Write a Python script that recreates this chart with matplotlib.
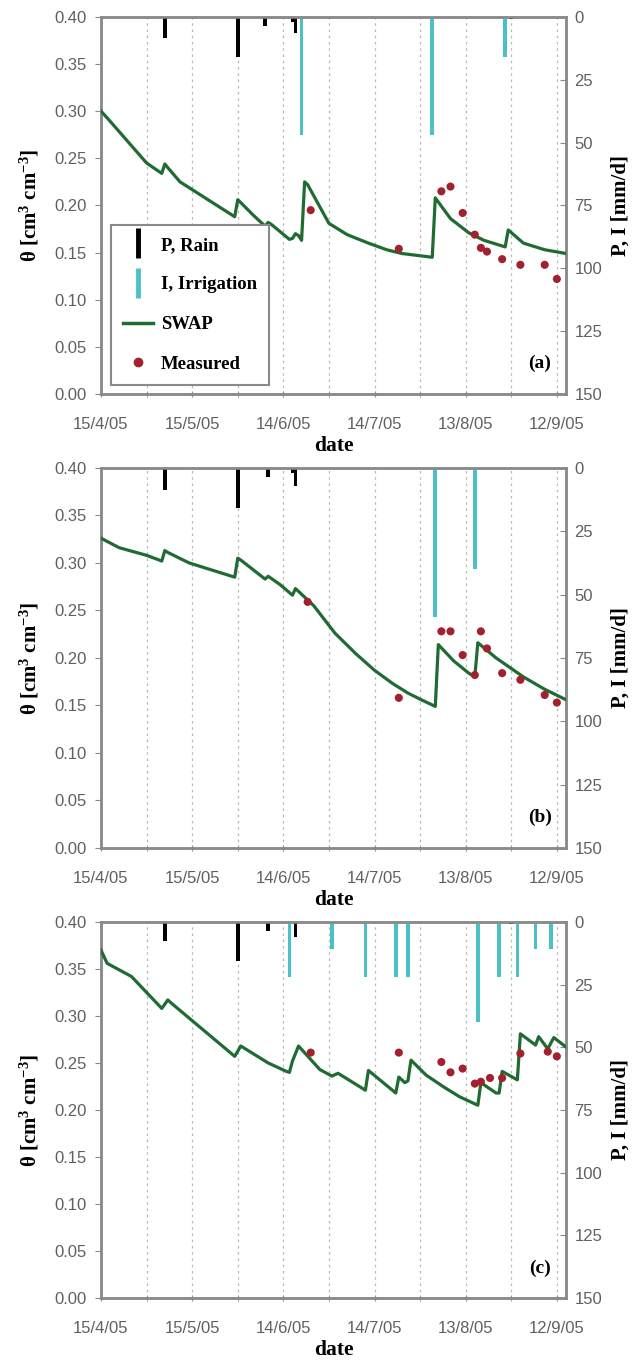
import numpy as np
import pandas as pd
import matplotlib
matplotlib.use("Agg")
import matplotlib.pyplot as plt
from matplotlib.lines import Line2D
from matplotlib.ticker import FixedLocator

plt.rcParams['mathtext.fontset'] = 'custom'
plt.rcParams['mathtext.rm'] = 'Liberation Serif:bold'
plt.rcParams['mathtext.it'] = 'Liberation Serif:bold'
plt.rcParams['mathtext.bf'] = 'Liberation Serif:bold'
plt.rcParams['mathtext.default'] = 'rm'

start = pd.Timestamp('2005-04-15')

# ---- panel (a) ----
swap_a_day = [0, 2, 15, 20, 21, 22, 26, 44, 45, 46, 50, 54, 55, 56, 59, 62, 63, 64, 65, 66, 67, 68,
              75, 81, 88, 94, 99, 104, 109, 110, 115, 121, 126, 131, 133, 134, 139, 146, 153]
swap_a = [0.300, 0.293, 0.245, 0.234, 0.244, 0.240, 0.225, 0.188, 0.206, 0.203, 0.190, 0.178, 0.182,
          0.180, 0.172, 0.164, 0.165, 0.170, 0.168, 0.163, 0.225, 0.222, 0.181, 0.169, 0.160, 0.153,
          0.149, 0.147, 0.145, 0.208, 0.186, 0.171, 0.163, 0.158, 0.156, 0.174, 0.160, 0.153, 0.149]
meas_a_day = [69, 98, 112, 115, 119, 123, 125, 127, 132, 138, 146, 150]
meas_a = [0.195, 0.154, 0.215, 0.220, 0.192, 0.169, 0.155, 0.151, 0.143, 0.137, 0.137, 0.122]
rain_a_day = [21, 45, 54, 63, 64, 135]
rain_a = [8.5, 15.8, 3.6, 2.0, 6.5, 1.0]
irr_a_day = [66, 109, 133]
irr_a = [47, 47, 16]

# ---- panel (b) ----
swap_b_day = [0, 6, 15, 20, 21, 22, 29, 44, 45, 46, 54, 55, 59, 63, 64, 65, 70, 77, 84, 90, 96, 101,
              106, 110, 111, 116, 121, 123, 124, 130, 139, 146, 153]
swap_b = [0.326, 0.316, 0.308, 0.302, 0.313, 0.311, 0.300, 0.285, 0.305, 0.303, 0.283, 0.286, 0.277,
          0.266, 0.273, 0.270, 0.255, 0.226, 0.204, 0.187, 0.173, 0.163, 0.155, 0.149, 0.214, 0.197,
          0.184, 0.180, 0.216, 0.200, 0.180, 0.167, 0.156]
meas_b_day = [68, 98, 112, 115, 119, 123, 125, 127, 132, 138, 146, 150]
meas_b = [0.259, 0.158, 0.228, 0.228, 0.203, 0.182, 0.228, 0.210, 0.184, 0.177, 0.161, 0.153]
rain_b_day = [21, 45, 55, 63, 64]
rain_b = [8.7, 15.9, 3.7, 2.0, 7.1]
irr_b_day = [110, 123]
irr_b = [59, 40]

# ---- panel (c) ----
swap_c_day = [0, 2, 10, 20, 22, 23, 44, 46, 47, 55, 61, 62, 63, 65, 72, 76, 78, 87, 88, 97, 98, 100,
              101, 102, 107, 113, 118, 124, 125, 130, 131, 132, 137, 138, 143, 144, 147, 149, 153]
swap_c = [0.370, 0.356, 0.342, 0.308, 0.317, 0.314, 0.257, 0.268, 0.266, 0.250, 0.241, 0.240, 0.252,
          0.268, 0.243, 0.236, 0.239, 0.221, 0.242, 0.218, 0.235, 0.229, 0.231, 0.253, 0.237, 0.224,
          0.214, 0.205, 0.229, 0.218, 0.218, 0.241, 0.232, 0.281, 0.269, 0.278, 0.265, 0.277, 0.267]
meas_c_day = [69, 98, 112, 115, 119, 123, 125, 128, 132, 138, 147, 150]
meas_c = [0.261, 0.261, 0.251, 0.240, 0.244, 0.228, 0.230, 0.234, 0.234, 0.260, 0.262, 0.257]
rain_c_day = [21, 45, 55, 64, 135]
rain_c = [7.8, 15.6, 3.5, 6.1, 1.0]
irr_c_day = [62, 76, 87, 97, 101, 124, 131, 137, 143, 148]
irr_c = [22, 11, 22, 22, 22, 40, 22, 22, 11, 11]

panels = [
    ('(a)', swap_a_day, swap_a, meas_a_day, meas_a, rain_a_day, rain_a, irr_a_day, irr_a),
    ('(b)', swap_b_day, swap_b, meas_b_day, meas_b, rain_b_day, rain_b, irr_b_day, irr_b),
    ('(c)', swap_c_day, swap_c, meas_c_day, meas_c, rain_c_day, rain_c, irr_c_day, irr_c),
]

def to_date(days):
    return start + pd.to_timedelta(np.asarray(days, dtype=float), unit='D')

GREEN = '#1f6b32'
CYAN = '#4cc0c8'
RED = '#a3202e'
GRAY = '#8a8a8a'
TICKC = '#606060'
serif = dict(family='Liberation Serif', weight='bold')

fig = plt.figure(figsize=(6.34, 13.65), dpi=100)
rects = [(0.1593, 0.7114, 0.7334, 0.2762),
         (0.1593, 0.3788, 0.7334, 0.2784),
         (0.1593, 0.0491, 0.7334, 0.2755)]

major = to_date(range(0, 151, 30))
minor = to_date(range(15, 151, 15))

for rect, (tag, sd, sv, md, mv, rd, rv, idy, iv) in zip(rects, panels):
    ax = fig.add_axes(rect)
    ax2 = ax.twinx()
    ax.set_zorder(ax2.get_zorder() + 1)
    ax.patch.set_visible(False)

    ax2.bar(to_date(rd), rv, width=1.2, color='black', align='center', zorder=3)
    ax2.bar(to_date(idy), iv, width=1.2, color=CYAN, align='center', zorder=3)
    ax2.set_ylim(150, 0)
    ax2.set_yticks(range(0, 151, 25))

    ax.plot(to_date(sd), sv, color=GREEN, lw=2.3, zorder=4)
    ax.scatter(to_date(md), mv, s=34, color=RED, zorder=5, edgecolors='none')

    ax.set_xlim(start, start + pd.Timedelta(days=153))
    ax.set_ylim(0, 0.40)
    ax.set_yticks(np.arange(0, 0.401, 0.05))
    ax.set_yticklabels([f'{v:.2f}' for v in np.arange(0, 0.401, 0.05)])
    ax.set_xticks(major)
    ax.set_xticklabels([f'{d.day}/{d.month}/{d.strftime("%y")}' for d in major])
    ax.xaxis.set_minor_locator(FixedLocator(matplotlib.dates.date2num(minor)))

    # vertical dotted grid lives on the bar axes so the bars sit on top of it
    ax2.xaxis.set_visible(True)
    ax2.xaxis.remove_overlapping_locs = False
    ax2.tick_params(axis='x', which='both', bottom=False, top=False,
                    labelbottom=False, labeltop=False)
    ax2.grid(True, which='minor', axis='x', color='#b8b8b8', ls=(0, (2, 3)), lw=0.9)
    ax2.set_axisbelow(True)

    for a in (ax, ax2):
        for s in a.spines.values():
            s.set_color(GRAY)
            s.set_linewidth(1.8)
    ax.tick_params(axis='y', direction='out', length=4, color=GRAY, labelsize=12,
                   labelcolor=TICKC, pad=6)
    ax.tick_params(axis='x', which='both', direction='inout', length=5, color=GRAY,
                   labelsize=12, labelcolor=TICKC, pad=14)
    ax2.tick_params(axis='y', direction='in', length=4, color=GRAY, labelsize=12,
                    labelcolor=TICKC, pad=6)
    for lab in ax.get_xticklabels() + ax.get_yticklabels() + ax2.get_yticklabels():
        lab.set_family('Liberation Sans')

    ax.set_xlabel('date', fontsize=15.5, labelpad=3, **serif)
    ax.set_ylabel('θ [cm$^{3}$ cm$^{-3}$]', fontsize=15, labelpad=10, **serif)
    ax2.set_ylabel('P, I [mm/d]', fontsize=15, labelpad=6, **serif)
    ax.text(0.944, 0.08, tag, transform=ax.transAxes, ha='center', va='center',
            fontsize=14, **serif)

    if tag == '(a)':
        handles = [
            Line2D([], [], color='black', marker='|', ls='None', markersize=22, markeredgewidth=3.5),
            Line2D([], [], color=CYAN, marker='|', ls='None', markersize=22, markeredgewidth=3.5),
            Line2D([], [], color=GREEN, lw=2.5),
            Line2D([], [], color=RED, marker='o', ls='None', markersize=6),
        ]
        leg = ax.legend(handles, ['P, Rain', 'I, Irrigation', 'SWAP', 'Measured'],
                        loc='lower left', bbox_to_anchor=(0.0215, 0.024), borderaxespad=0,
                        fancybox=False, framealpha=1, edgecolor=GRAY, handlelength=1.6,
                        handletextpad=0.4, labelspacing=1.2, borderpad=0.65,
                        prop=dict(family='Liberation Serif', weight='bold', size=13.5))
        leg.get_frame().set_linewidth(1.5)

fig.savefig('out.png', dpi=100)
